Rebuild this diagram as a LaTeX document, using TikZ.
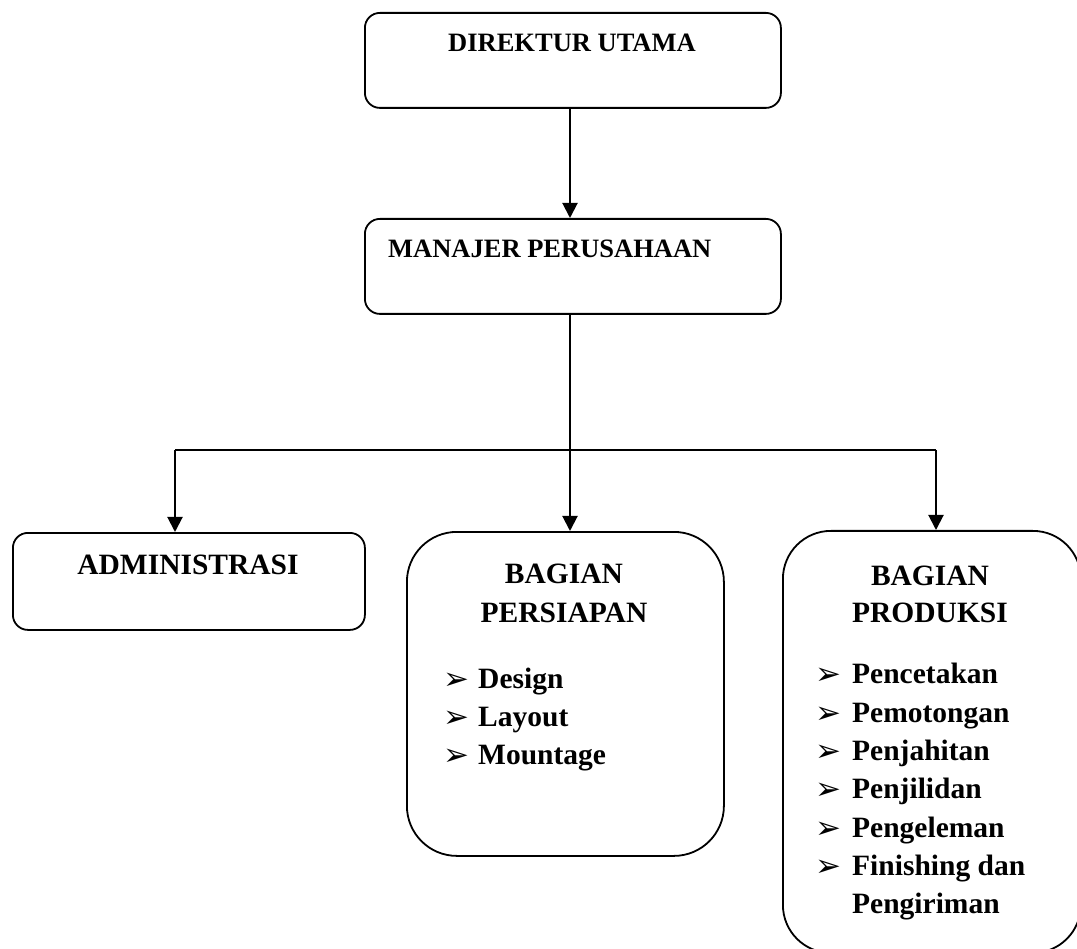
\documentclass[tikz,border=0pt]{standalone}
\usepackage{fontspec}
\setmainfont{Liberation Serif}
\newfontfamily\symfont{DejaVu Sans}
\usetikzlibrary{arrows.meta}
\newcommand\fTop{\fontsize{26.5}{32}\bfseries\selectfont}
\newcommand\fLow{\fontsize{29.5}{38}\bfseries\selectfont}
\newcommand\fBul{\symfont\fontsize{31}{31}\selectfont}
\begin{document}
\begin{tikzpicture}[x=1pt,y=-1pt,
  box/.style={draw, line width=1.8pt, rounded corners=#1, inner sep=0pt, anchor=north west},
  conn/.style={line width=2pt},
  arr/.style={line width=2pt, -{Triangle[length=15pt,width=15pt]}},
  toptext/.style={anchor=base, font=\fTop, inner sep=0pt},
  lowtext/.style={anchor=base, font=\fLow, inner sep=0pt},
  item/.style={anchor=base west, font=\fLow, inner sep=0pt},
  bul/.style={anchor=base west, font=\fBul, inner sep=0pt}
]
\useasboundingbox (0,0) rectangle (1077,949);
\clip (0,0) rectangle (1077,949);
\fill[white] (0,0) rectangle (1077,949);

% boxes
\node[box=15pt, minimum width=416pt, minimum height=95pt] (dir) at (364,12) {};
\node[box=15pt, minimum width=416pt, minimum height=95pt] (man) at (364,218) {};
\node[box=15pt, minimum width=352pt, minimum height=97pt] (adm) at (12,532) {};
\node[box=50pt, minimum width=317pt, minimum height=324pt] (per) at (406,531) {};
\node[box=48pt, minimum width=298pt, minimum height=422pt] (pro) at (782,530) {};

% texts
\node[toptext] (tdir) at (572,52) {DIREKTUR UTAMA};
\node[toptext, anchor=base west] (tman) at (388,258) {MANAJER PERUSAHAAN};
\node[lowtext] (tadm) at (188,574) {ADMINISTRASI};
\node[lowtext] (tper1) at (564,583) {BAGIAN};
\node[lowtext] (tper2) at (564,622) {PERSIAPAN};
\node[lowtext] (tpro1) at (930,585) {BAGIAN};
\node[lowtext] (tpro2) at (930,622) {PRODUKSI};

% persiapan list
\node[bul] (bp1) at (443,689) {➢};
\node[item] (ip1) at (478,688) {Design};
\node[bul] (bp2) at (443,727) {➢};
\node[item] (ip2) at (478,726) {Layout};
\node[bul] (bp3) at (443,765) {➢};
\node[item] (ip3) at (478,764) {Mountage};

% produksi list
\node[bul] (bq1) at (815,684) {➢};
\node[item] (iq1) at (852,683) {Pencetakan};
\node[bul] (bq2) at (815,723) {➢};
\node[item] (iq2) at (852,722) {Pemotongan};
\node[bul] (bq3) at (815,761) {➢};
\node[item] (iq3) at (852,760) {Penjahitan};
\node[bul] (bq4) at (815,799) {➢};
\node[item] (iq4) at (852,798) {Penjilidan};
\node[bul] (bq5) at (815,838) {➢};
\node[item] (iq5) at (852,837) {Pengeleman};
\node[bul] (bq6) at (815,876) {➢};
\node[item] (iq6) at (852,875) {Finishing dan};
\node[item] (iq7) at (852,913) {Pengiriman};

% connectors
\coordinate (cx) at (570,450);
\coordinate (hl) at (175,450);
\coordinate (hr) at (936,450);
\draw[arr] (dir.south -| cx) -- (man.north -| cx);
\draw[arr] (man.south -| cx) -- (per.north -| cx);
\draw[conn] (hl) -- (hr);
\draw[arr] (hl) -- (hl |- adm.north);
\draw[arr] (hr) -- (hr |- pro.north);
\end{tikzpicture}
\end{document}
